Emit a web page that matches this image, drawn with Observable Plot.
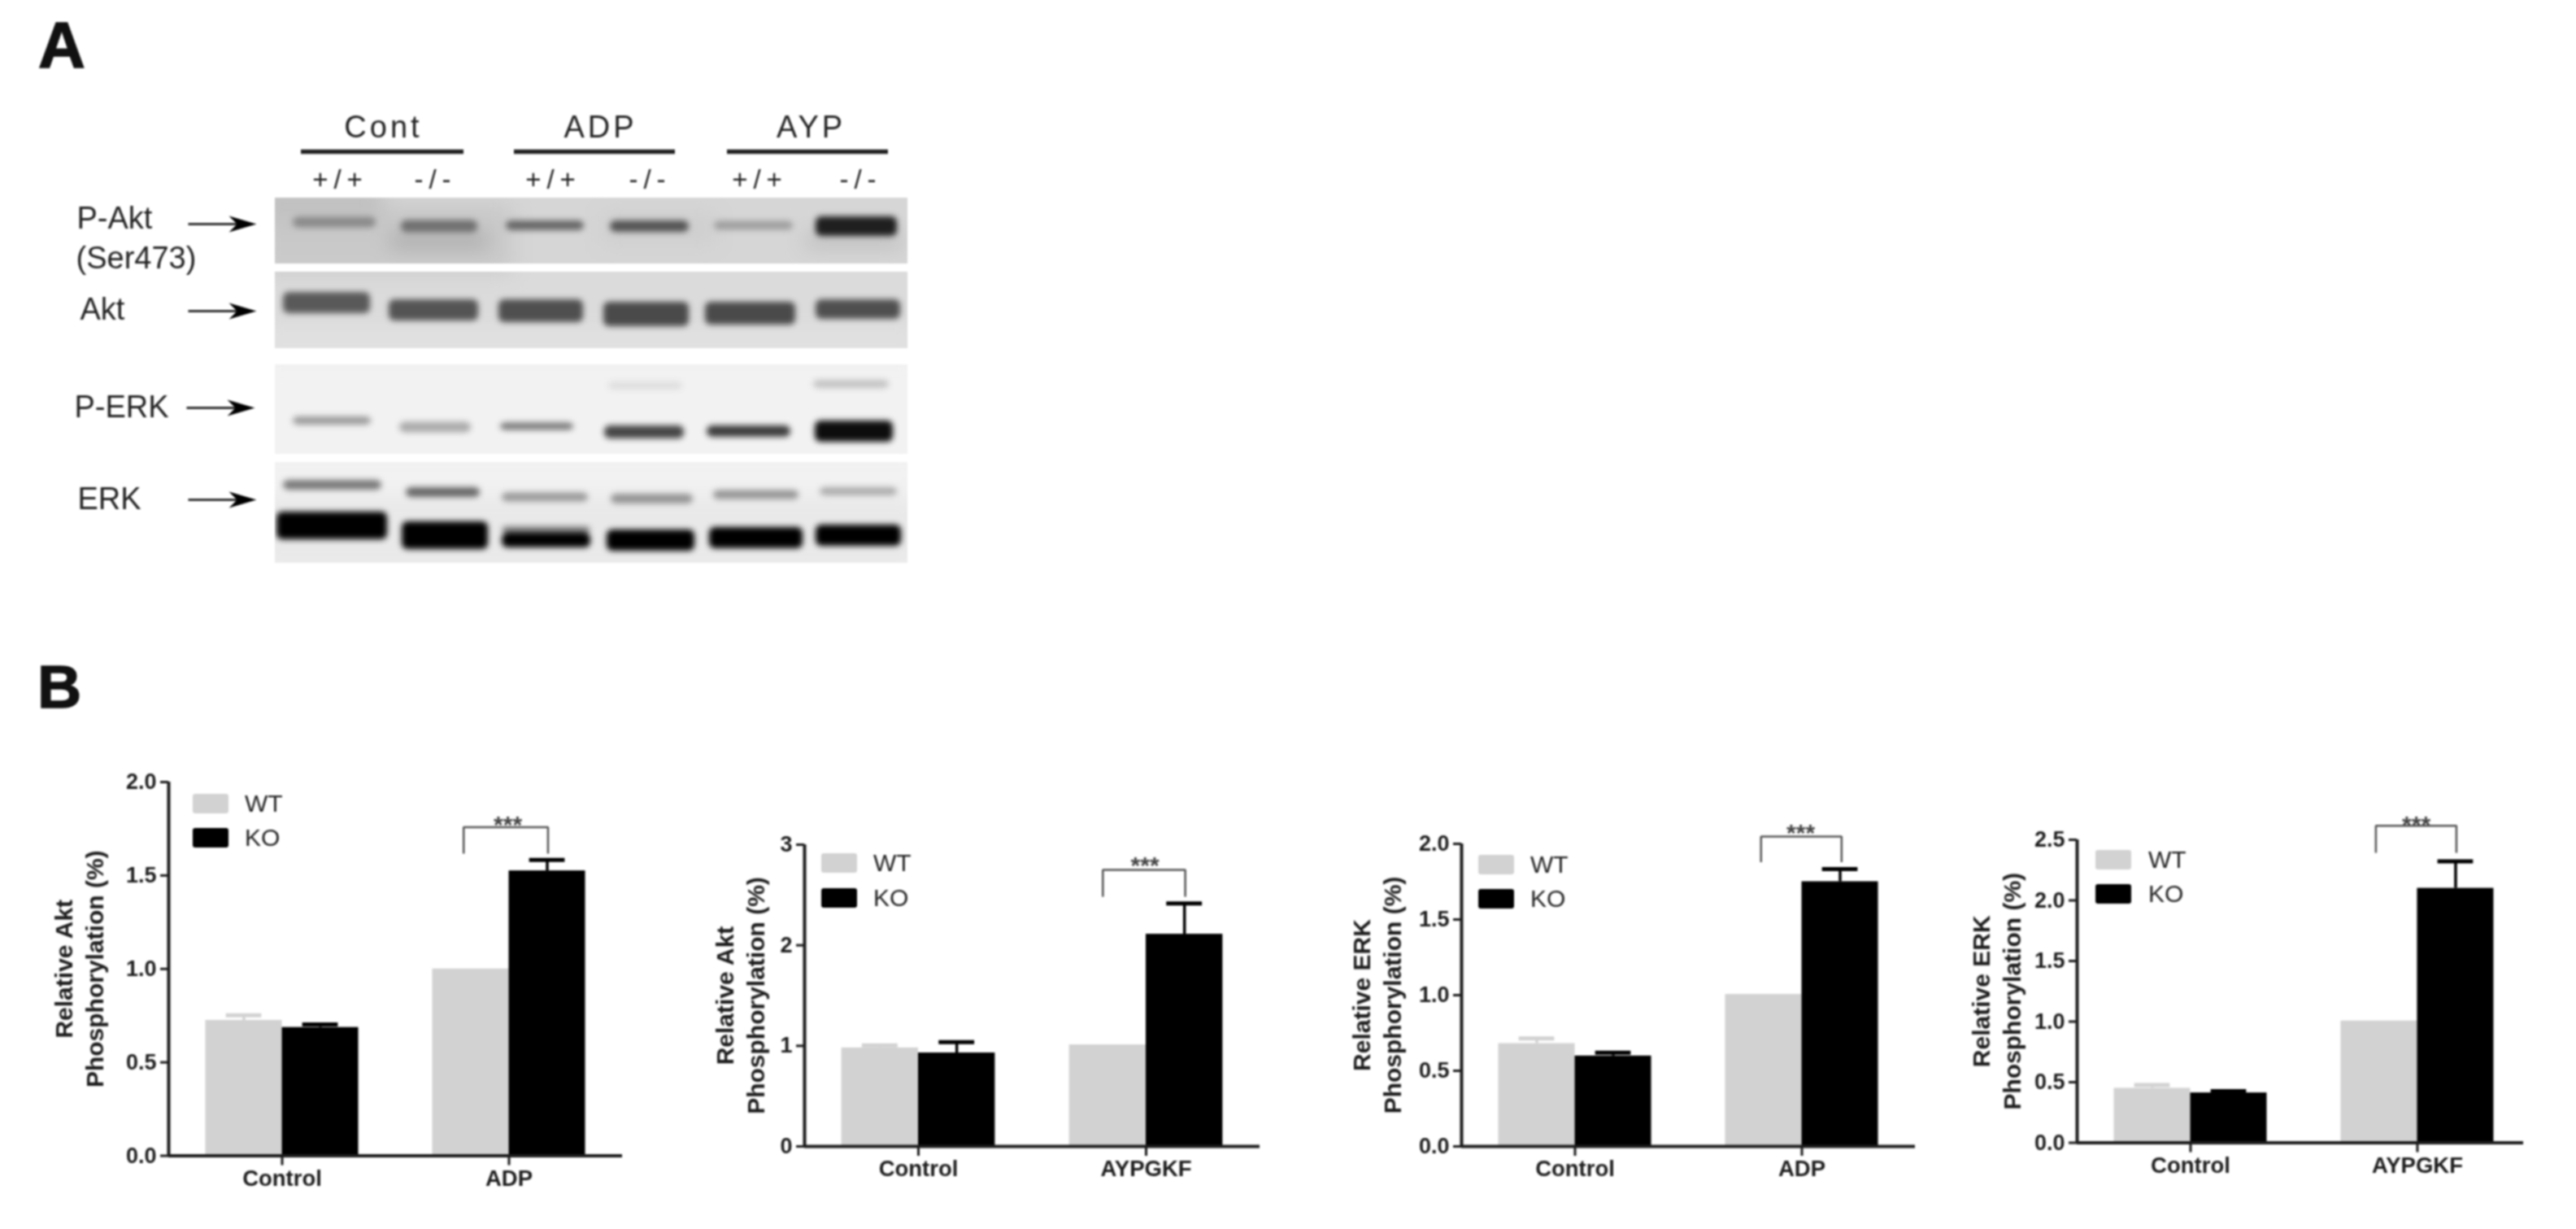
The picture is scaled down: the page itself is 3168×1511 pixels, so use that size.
<!DOCTYPE html>
<html>
<head>
<meta charset="utf-8">
<script src="https://cdn.jsdelivr.net/npm/d3@7"></script>
<script src="https://cdn.jsdelivr.net/npm/@observablehq/plot@0.6"></script>
<style>
html,body{margin:0;padding:0;background:#fff;}
#page{position:relative;width:3168px;height:1511px;overflow:hidden;font-family:"Liberation Sans",Arial,sans-serif;background:#fff;}
#page svg{position:absolute;background:transparent;max-width:none;filter:blur(1px);}
.spaced4 text{letter-spacing:4px;}
.spaced7 text{letter-spacing:7px;}
.abs{position:absolute;line-height:1;white-space:nowrap;filter:blur(.8px);}
.letter{font-weight:bold;color:#111;-webkit-text-stroke:1.5px #111;}
.swatch{position:absolute;border-radius:3px;}
.legendText{color:#222;transform:translateY(-50%);}
</style>
</head>
<body>
<div id="page"></div>
<script>
// ---------- Panel B data ----------
const chartTitles = ["Relative Akt\nPhosphorylation (%)","Relative Akt\nPhosphorylation (%)","Relative ERK\nPhosphorylation (%)","Relative ERK\nPhosphorylation (%)"];
const treatments = [["Control","ADP"],["Control","AYPGKF"],["Control","ADP"],["Control","AYPGKF"]];
const genotypes = ["WT","KO"];
const wtMeans = [[0.725,1.0],[0.98,1.01],[0.68,1.005],[0.45,1.005]];
const koMeans = [[0.687,1.525],[0.93,2.11],[0.598,1.75],[0.412,2.10]];
const wtTops  = [[0.752,1.0],[1.005,1.01],[0.714,1.005],[0.476,1.005]];
const koTops  = [[0.703,1.583],[1.037,2.416],[0.62,1.834],[0.427,2.322]];
const yMaxes  = [2,3,2,2.5];
const yTicks  = [[0,0.5,1,1.5,2],[0,1,2,3],[0,0.5,1,1.5,2],[0,0.5,1,1.5,2,2.5]];
const bracketLeft = [0.80,0.81,0.82,0.817];
const bracketRight = [1.172,1.172,1.175,1.172];
const bracketTops = [1.758,2.75,2.048,2.616];
const bracketFeet = [1.617,2.483,1.879,2.393];
const starLevels  = [1.80,2.85,2.107,2.667];
const sigLabel = "***";

// ---------- Panel A data (positions are in gel-image units) ----------
const treatmentHeads = ["Cont","ADP","AYP"];
const headCenters = [471,738,997];
const headBarStart = [370,632,894];
const headBarEnd = [570,830,1092];
const laneLabels = ["+/+","-/-","+/+","-/-","+/+","-/-"];
const laneLabelCenters = [418,535,680,799,934,1058];
const proteinLabels = ["P-Akt","(Ser473)","Akt","P-ERK","ERK"];
const proteinLabelX = [94,93,98,91,95];
const proteinLabelY = [268,317,380,500,613];
const arrowY = [275,382,501,614];
const arrowX1 = [231,231,229,231];
const arrowX2 = [315,315,313,315];

const stripTop = [243,334,448,568];
const stripBottom = [324,428,558,692];
const stripDensity = [0.16,0.14,0.05,0.05];

// white gaps around the four membrane strips
const gapX1 = [280,280,280,280,280,280,1116];
const gapX2 = [1190,1190,1190,1190,1190,338,1190];
const gapY1 = [170,324,428,558,692,170,170];
const gapY2 = [243,334,448,568,760,760,760];

// diffuse background shading of the membranes
const smearX1 = [320,320,480,990,320,320,740,320];
const smearX2 = [470,630,600,1110,1130,1130,880,1130];
const smearY1 = [230,250,285,290,400,610,262,445];
const smearY2 = [278,335,305,302,435,700,300,560];
const smearD  = [0.29,0.23,0.36,0.34,0.11,0.1,0.2,0.05];

const bandX1 = [360,493,622,750,878,1003, 348,478,613,742,867,1003, 748,1000,360,491,615,743,869,1002, 348,499,617,751,877,1008, 617, 340,494,617,746,872,1003];
const bandX2 = [462,587,718,847,975,1103, 455,588,717,847,978,1107, 839,1093,456,579,705,841,972,1098, 469,590,723,852,982,1103, 726, 476,600,726,854,987,1108];
const bandY  = [273,278,277,278,277,278, 372,381,382,386,385,380, 474,472,517,525,524,531,530,530, 596,605,611,613,608,604, 651, 646,658,664,664,661,658];
const bandH  = [13,15,12,14,11,24, 26,26,28,30,28,24, 10,10,10,13,9,16,14,26, 12,12,11,12,11,10, 8, 34,34,18,26,26,26];
const bandD  = [0.46,0.56,0.6,0.67,0.38,0.88, 0.65,0.67,0.69,0.71,0.71,0.69, 0.13,0.24,0.4,0.33,0.53,0.73,0.77,0.95, 0.53,0.6,0.4,0.42,0.42,0.33, 0.5, 1,1,1,1,1,1];

const blotColor = {type:"linear",domain:[0,1],range:["#ffffff","#000000"]};
const page = document.getElementById("page");

// ---------- Panel A ----------
const strips = stripTop.map((t,i)=>({x1:338,x2:1116,y1:t,y2:stripBottom[i],d:stripDensity[i]}));
const smears = smearX1.map((x,i)=>({x1:x,x2:smearX2[i],y1:smearY1[i],y2:smearY2[i],d:smearD[i]}));
const bands = bandX1.map((x,i)=>({x1:x,x2:bandX2[i],y1:bandY[i]-bandH[i]/2,y2:bandY[i]+bandH[i]/2,d:bandD[i]}));
const gaps = gapX1.map((x,i)=>({x1:x,x2:gapX2[i],y1:gapY1[i],y2:gapY2[i]}));
const arrowHead = {draw(c,size){const s=Math.sqrt(size/Math.PI)/10;c.moveTo(0,0);c.lineTo(-34*s,-10*s);c.lineTo(-24*s,0);c.lineTo(-34*s,10*s);c.closePath();}};

const blot = Plot.plot({
  width:1200,height:780,margin:0,
  x:{domain:[0,1200],range:[0,1200],axis:null},
  y:{domain:[0,780],range:[0,780],axis:null},
  color:blotColor,
  style:{fontFamily:"Liberation Sans",background:"transparent"},
  marks:[
    Plot.rect(strips,{x1:"x1",x2:"x2",y1:"y1",y2:"y2",fill:"d"}),
    Plot.rect(smears,{x1:"x1",x2:"x2",y1:"y1",y2:"y2",fill:"d",fillOpacity:0.75,imageFilter:"blur(12px)"}),
    Plot.rect(bands,{x1:"x1",x2:"x2",y1:"y1",y2:"y2",fill:"d",rx:7,imageFilter:"blur(3.5px)"}),
    Plot.rect(gaps,{x1:"x1",x2:"x2",y1:"y1",y2:"y2",fill:"#ffffff"}),
    Plot.ruleY(headCenters,{y:()=>186,x1:(d,i)=>headBarStart[i],x2:(d,i)=>headBarEnd[i],stroke:"#222",strokeWidth:5.5}),
    Plot.text(treatmentHeads,{text:d=>d,x:(d,i)=>headCenters[i],y:()=>156,fontSize:38,fill:"#222",className:"spaced4",lineAnchor:"middle"}),
    Plot.text(laneLabels,{text:d=>d,x:(d,i)=>laneLabelCenters[i],y:()=>221,fontSize:33,fill:"#222",className:"spaced7",lineAnchor:"middle"}),
    Plot.text(proteinLabels,{text:d=>d,x:(d,i)=>proteinLabelX[i],y:(d,i)=>proteinLabelY[i],fontSize:38,fill:"#222",textAnchor:"start",lineAnchor:"middle"}),
    Plot.link(arrowY,{x1:(d,i)=>arrowX1[i],x2:(d,i)=>arrowX2[i]-20,y1:d=>d,y2:d=>d,stroke:"#333",strokeWidth:3}),
    Plot.dot(arrowY,{x:(d,i)=>arrowX2[i],y:d=>d,r:10,symbol:arrowHead,fill:"#000",stroke:"none"})
  ]
});
blot.style.left="0px";blot.style.top="0px";
page.appendChild(blot);

function addText(txt,cls,left,top,size){
  const el=document.createElement("div");
  el.className="abs "+cls;el.textContent=txt;
  el.style.left=left+"px";el.style.top=top+"px";el.style.fontSize=size+"px";
  page.appendChild(el);return el;
}
addText("A","letter",47,16,80);
addText("B","letter",46,807,75);

// ---------- Panel B ----------
const frameLeft   = [207,989,1797,2554];
const frameTop    = [961,1038,1037,1032];
const frameHeight = [459.5,371,372,372.5];
const frameWidth  = [558,560,558,549];
const xDomainEnd  = [1.5,1.5,1.5,1.468];
const labelOffset = [-112,-81,-106,-101];
const legendTops  = [[976,1018],[1049,1092],[1051,1093],[1045,1087]];
const swatchLeft  = [237,1010,1818,2577];
const legendTextLeft = [301,1074,1882,2642];
const marginL=170,marginR=10,marginT=70,marginB=70;
const barWidth=0.337;
const colors={WT:"#d2d2d2",KO:"#000000"};
const ink="#1c1c1c";

chartTitles.forEach((title,k)=>{
  const rows=[];
  treatments[k].forEach((t,g)=>{
    rows.push({genotype:"WT",g,x1:g-barWidth,x2:g,mid:g-barWidth/2,value:wtMeans[k][g],top:wtTops[k][g]});
    rows.push({genotype:"KO",g,x1:g,x2:g+barWidth,mid:g+barWidth/2,value:koMeans[k][g],top:koTops[k][g]});
  });
  const errs=rows.filter(d=>d.top>d.value);
  const br=[[bracketLeft[k],bracketFeet[k]],[bracketLeft[k],bracketTops[k]],[bracketRight[k],bracketTops[k]],[bracketRight[k],bracketFeet[k]]];
  const capHalf=barWidth/4.3;
  const fmt=k===1?d3.format("d"):d3.format(".1f");
  const svg=Plot.plot({
    width:frameWidth[k]+marginL+marginR,
    height:frameHeight[k]+marginT+marginB,
    marginLeft:marginL,marginRight:marginR,marginTop:marginT,marginBottom:marginB,
    style:{fontFamily:"Liberation Sans",background:"transparent",color:ink},
    x:{domain:[-0.5,xDomainEnd[k]],axis:null},
    y:{domain:[0,yMaxes[k]],axis:null},
    color:{domain:genotypes,range:[colors.WT,colors.KO]},
    marks:[
      Plot.rect(rows,{x1:"x1",x2:"x2",y1:()=>0,y2:"value",fill:"genotype"}),
      Plot.ruleX(errs,{x:"mid",y1:"value",y2:"top",stroke:"genotype",strokeWidth:3.5}),
      Plot.ruleY(errs,{y:"top",x1:d=>d.mid-capHalf,x2:d=>d.mid+capHalf,stroke:"genotype",strokeWidth:5}),
      Plot.ruleY([0],{stroke:ink,strokeWidth:4}),
      Plot.ruleX([-0.5],{stroke:ink,strokeWidth:4}),
      Plot.axisY({ticks:yTicks[k],tickFormat:fmt,tickSize:10,tickPadding:5,strokeWidth:3,fontSize:27,fontWeight:"bold",label:null,anchor:"left",stroke:ink,fill:ink}),
      Plot.axisX({ticks:[0,1],tickFormat:i=>treatments[k][i],tickSize:12,tickPadding:5,strokeWidth:3,fontSize:27.5,fontWeight:"bold",label:null,anchor:"bottom",stroke:ink,fill:ink}),
      Plot.line(br,{x:d=>d[0],y:d=>d[1],stroke:"#555",strokeWidth:2.5,strokeLinejoin:"miter",strokeLinecap:"butt"}),
      Plot.text([sigLabel],{text:d=>d,x:()=>0.995,y:()=>starLevels[k],dy:7,fontSize:30,fontWeight:"bold",fill:"#444",lineAnchor:"middle"}),
      Plot.text([title],{text:d=>d,frameAnchor:"left",dx:labelOffset[k],rotate:-90,fontSize:30,fontWeight:"bold",lineHeight:1.27,textAnchor:"middle",lineAnchor:"middle",fill:ink})
    ]
  });
  svg.style.left=(frameLeft[k]-marginL)+"px";
  svg.style.top=(frameTop[k]-marginT)+"px";
  page.appendChild(svg);

  genotypes.forEach((g,i)=>{
    const s=document.createElement("div");
    s.className="swatch";
    s.style.cssText+=`left:${swatchLeft[k]}px;top:${legendTops[k][i]}px;width:44px;height:24px;background:${colors[g]};filter:blur(1px);`;
    page.appendChild(s);
    addText(g,"legendText",legendTextLeft[k],legendTops[k][i]+12,30);
  });
});
</script>
</body>
</html>
